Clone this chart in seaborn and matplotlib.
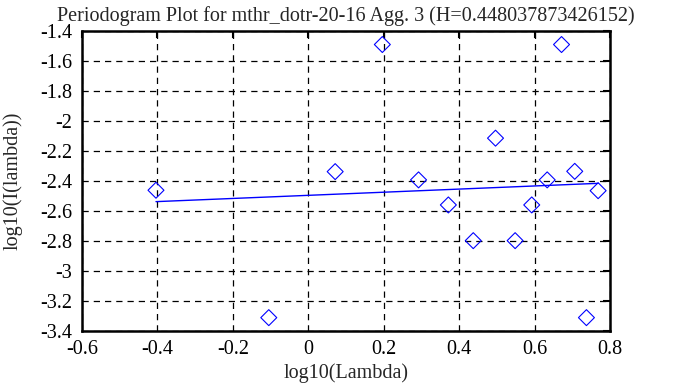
import numpy as np
import pandas as pd
import matplotlib
matplotlib.use("Agg")
import matplotlib.pyplot as plt
import seaborn as sns

# periodogram points
log_lambda = [-0.404, -0.105, 0.071, 0.196, 0.292, 0.371, 0.437, 0.496,
              0.548, 0.592, 0.633, 0.671, 0.706, 0.737, 0.768]
log_power = [-2.464, -3.313, -2.340, -1.493, -2.395, -2.562, -2.800, -2.117,
             -2.800, -2.562, -2.395, -1.493, -2.338, -3.313, -2.467]

# least-squares fit line end points
fit_x = [-0.404, 0.768]
fit_y = [-2.540, -2.418]

title = "Periodogram Plot for mthr_dotr-20-16 Agg. 3 (H=0.448037873426152)"

df_pts = pd.DataFrame({"x": log_lambda, "y": log_power})
df_fit = pd.DataFrame({"x": fit_x, "y": fit_y})

sns.set_style("white")
plt.rcParams["font.family"] = ["Liberation Serif", "DejaVu Serif"]
plt.rcParams["axes.unicode_minus"] = False

fig = plt.figure(figsize=(6.78, 3.87), dpi=100)
ax = fig.add_axes([0.121, 0.1455, 0.779, 0.7755])

sns.lineplot(x="x", y="y", data=df_fit, color="blue", linewidth=1.0, ax=ax, zorder=3)
sns.scatterplot(x="x", y="y", data=df_pts, marker="D", s=66,
                facecolors="none", edgecolors="blue", linewidths=0.8, ax=ax, zorder=4)

ax.set_xlim(-0.6, 0.8)
ax.set_ylim(-3.4, -1.4)
ax.set_xticks(np.arange(-0.6, 0.81, 0.2))
ax.set_yticks(np.arange(-3.4, -1.39, 0.2))
ax.set_xticklabels(["-0.6", "-0.4", "-0.2", "0", "0.2", "0.4", "0.6", "0.8"])
ax.set_yticklabels(["-3.4", "-3.2", "-3", "-2.8", "-2.6", "-2.4", "-2.2",
                    "-2", "-1.8", "-1.6", "-1.4"])

ax.grid(True, color="black", linestyle=(0, (5, 4)), linewidth=0.9)
for s in ax.spines.values():
    s.set_linewidth(1.8)
    s.set_color("black")
ax.tick_params(direction="in", length=5, width=1.5, top=True, right=True,
               labelsize=14.5, colors="black")
ax.tick_params(axis="y", pad=7)
ax.tick_params(axis="x", pad=7)

ax.set_title(title, fontsize=14.5, pad=7)
ax.set_xlabel("log10(Lambda)", fontsize=14.5, labelpad=3)
ax.set_ylabel("log10(I(lambda))", fontsize=14.5, labelpad=13)

fig.savefig("out.png", dpi=100)
